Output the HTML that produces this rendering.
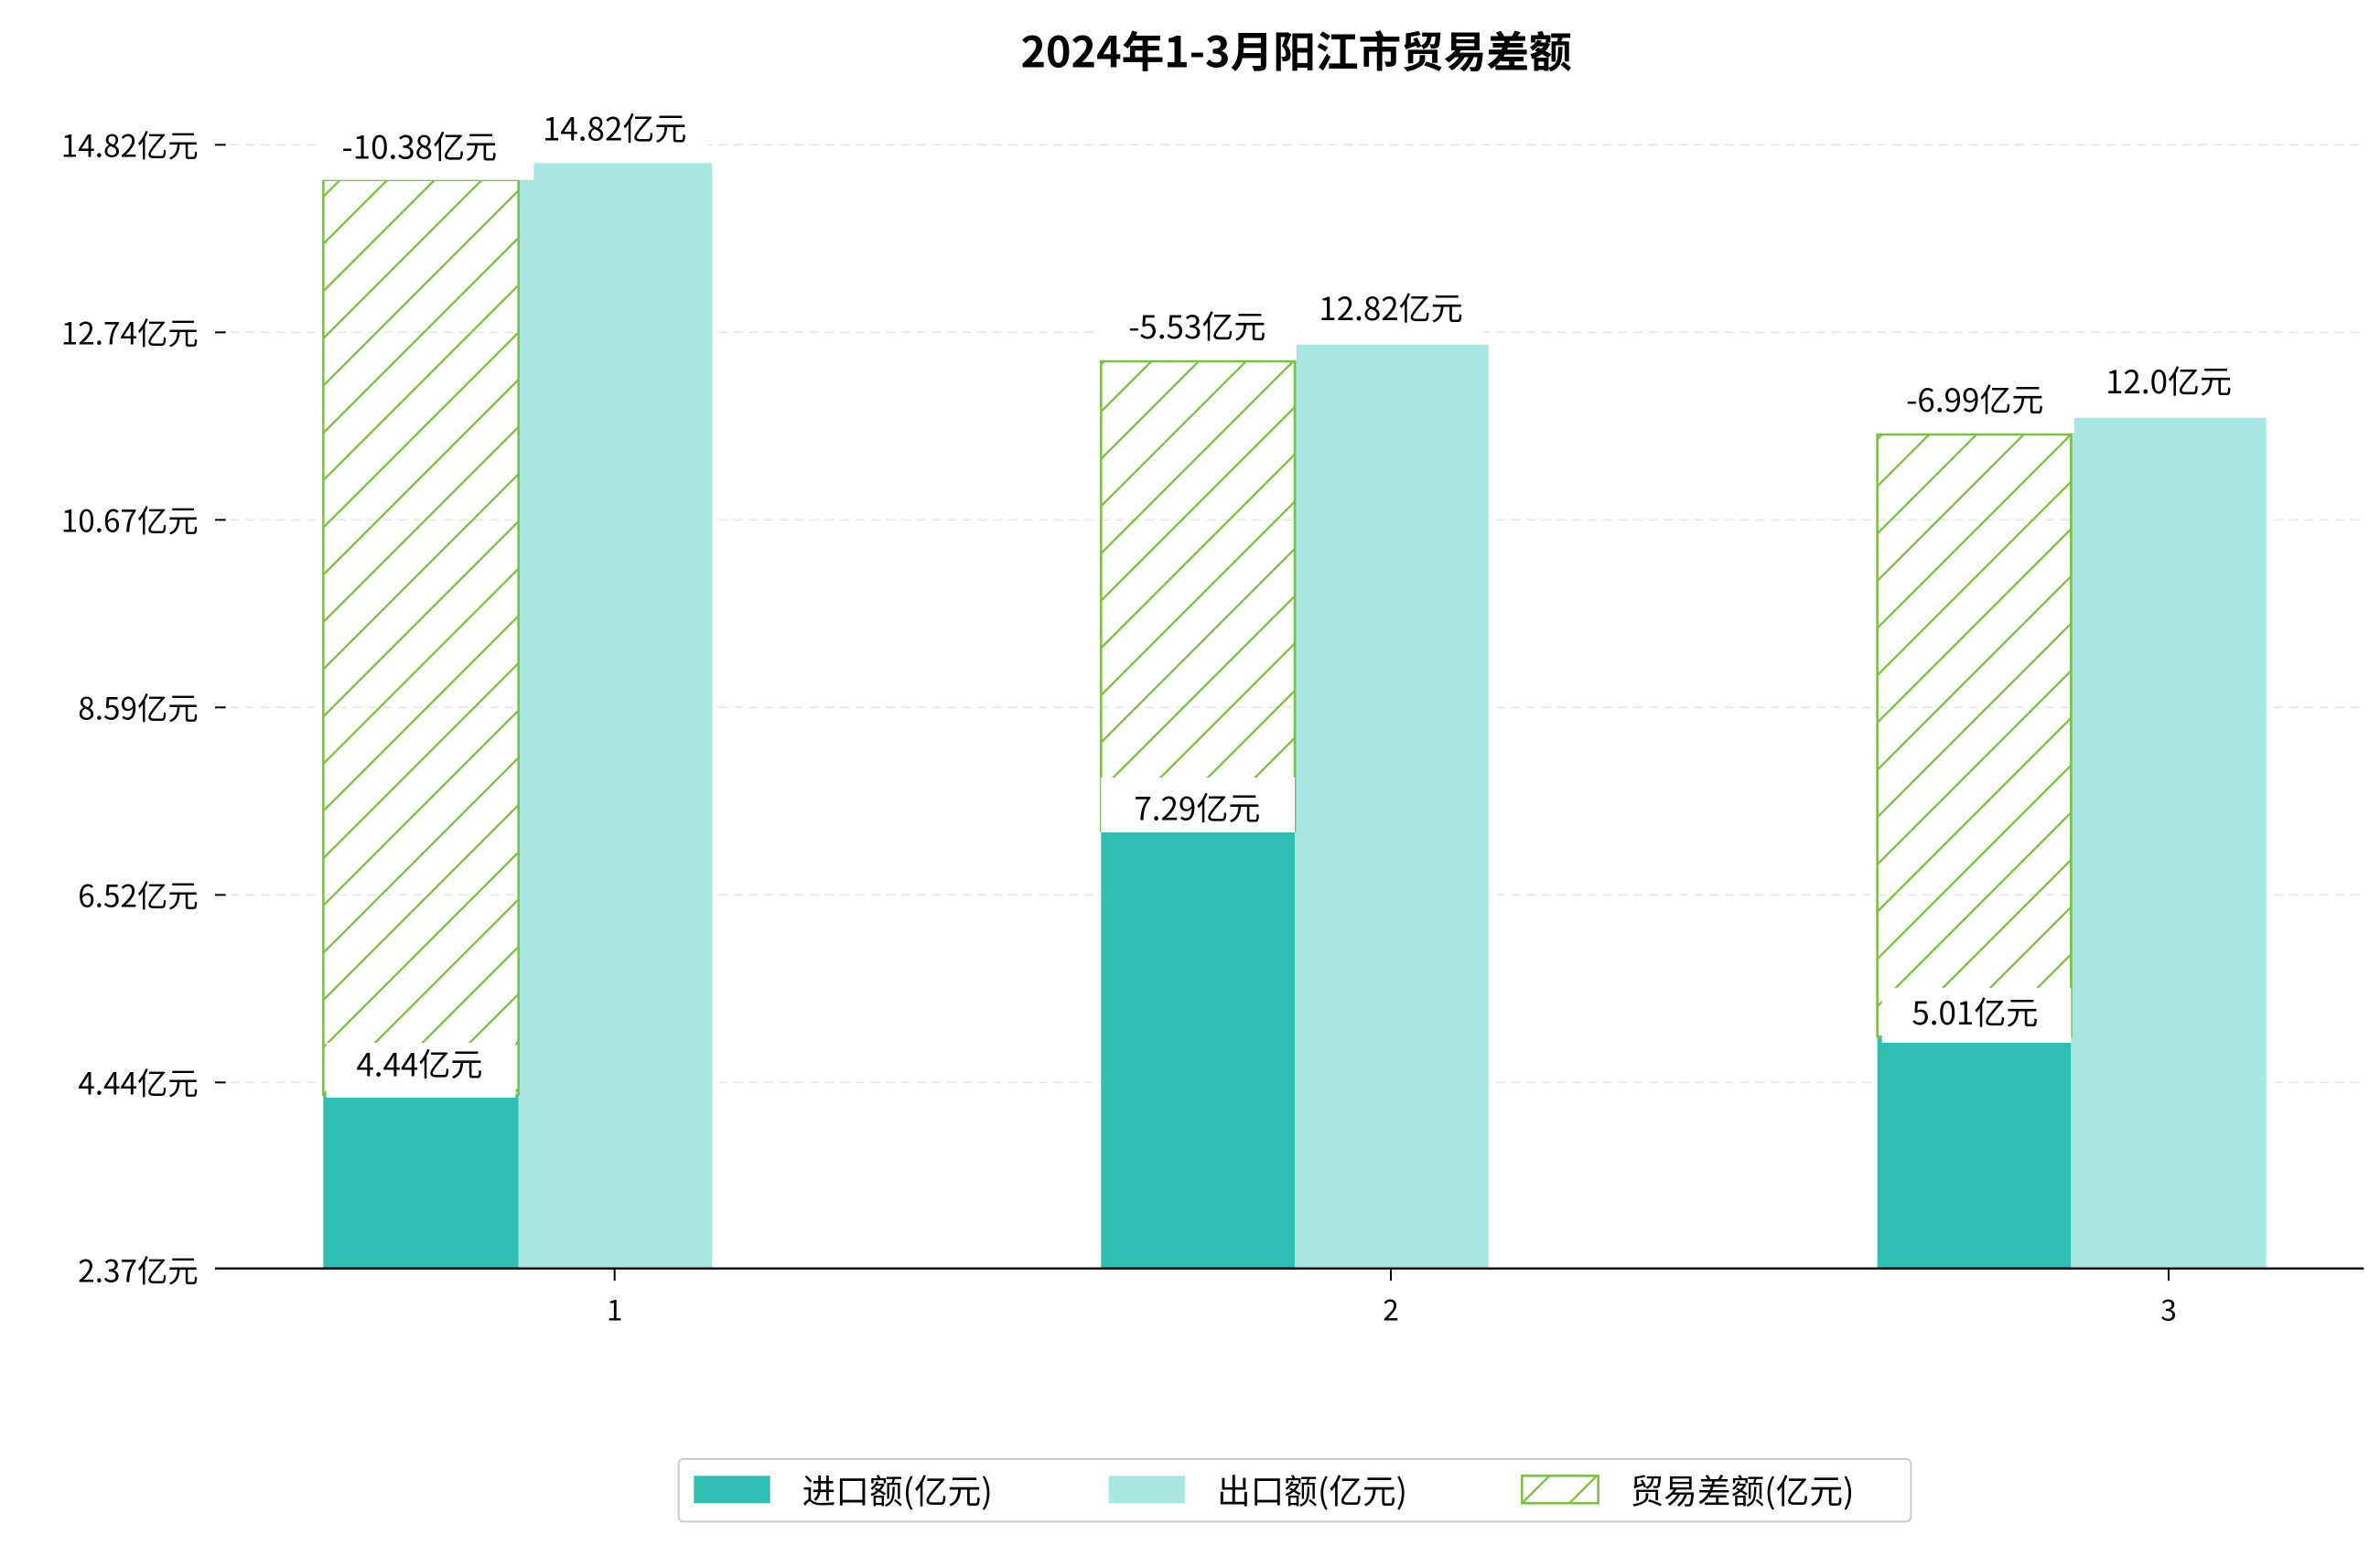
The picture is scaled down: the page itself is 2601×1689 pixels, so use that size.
<!DOCTYPE html>
<html><head><meta charset="utf-8"><style>html,body{margin:0;padding:0;background:#fff}svg{display:block}text{font-family:"WenQuanYi Zen Hei","Noto Sans CJK SC",sans-serif;fill:#000}</style></head><body>
<svg width="2601" height="1689" viewBox="0 0 1560.6 1013.4" xmlns="http://www.w3.org/2000/svg">
<defs><pattern id="h" patternUnits="userSpaceOnUse" width="31" height="31"><path d="M-2,33 L33,-2 M-33,33 L2,-2 M29,33 L64,-2" stroke="#7bbf3f" stroke-width="1.4"/></pattern></defs>
<text x="850" y="44" font-size="28" font-weight="bold" text-anchor="middle">2024年1-3月阳江市贸易差额</text>
<g stroke="#e6e6e6" stroke-dasharray="6,4" stroke-width="1">
<line x1="141" x2="1550" y1="95" y2="95"/><line x1="141" x2="1550" y1="218" y2="218"/><line x1="141" x2="1550" y1="341" y2="341"/><line x1="141" x2="1550" y1="464" y2="464"/><line x1="141" x2="1550" y1="587" y2="587"/><line x1="141" x2="1550" y1="710" y2="710"/></g>
<g font-size="20" text-anchor="end">
<text x="130" y="103">14.82亿元</text><text x="130" y="226">12.74亿元</text><text x="130" y="349">10.67亿元</text><text x="130" y="472">8.59亿元</text><text x="130" y="595">6.52亿元</text><text x="130" y="718">4.44亿元</text><text x="130" y="841">2.37亿元</text></g>
<g stroke="#000" stroke-width="1.2"><line x1="141" x2="148" y1="95" y2="95"/><line x1="141" x2="148" y1="218" y2="218"/><line x1="141" x2="148" y1="341" y2="341"/><line x1="141" x2="148" y1="464" y2="464"/><line x1="141" x2="148" y1="587" y2="587"/><line x1="141" x2="148" y1="710" y2="710"/>
<line x1="403" x2="403" y1="832" y2="840"/><line x1="912" x2="912" y1="832" y2="840"/><line x1="1422" x2="1422" y1="832" y2="840"/></g>
<rect x="212" y="718" width="128" height="114" fill="#2fbfb2"/>
<rect x="340" y="107" width="127" height="725" fill="#a8e6e1"/>
<rect x="722" y="545" width="127" height="287" fill="#2fbfb2"/>
<rect x="849" y="226" width="127" height="606" fill="#a8e6e1"/>
<rect x="1231" y="680" width="127" height="152" fill="#2fbfb2"/>
<rect x="1358" y="274" width="128" height="558" fill="#a8e6e1"/>
<rect x="212" y="118" width="128" height="600" fill="url(#h)" stroke="#7bbf3f" stroke-width="1.5"/>
<rect x="722" y="237" width="127" height="308" fill="url(#h)" stroke="#7bbf3f" stroke-width="1.5"/>
<rect x="1231" y="285" width="127" height="395" fill="url(#h)" stroke="#7bbf3f" stroke-width="1.5"/>
<line x1="141" x2="1550" y1="832" y2="832" stroke="#000" stroke-width="1.4"/>
<g fill="#fff"><rect x="210" y="80" width="140" height="38"/><rect x="344" y="70" width="120" height="34"/><rect x="214" y="684" width="124" height="36"/>
<rect x="720" y="200" width="130" height="36"/><rect x="852" y="188" width="120" height="36"/><rect x="722" y="510" width="127" height="36"/>
<rect x="1232" y="248" width="128" height="36"/><rect x="1362" y="236" width="120" height="36"/><rect x="1234" y="648" width="124" height="36"/></g>
<g font-size="21" text-anchor="middle">
<text x="275" y="104">-10.38亿元</text><text x="403" y="92">14.82亿元</text><text x="275" y="706">4.44亿元</text>
<text x="785" y="222">-5.53亿元</text><text x="912" y="210">12.82亿元</text><text x="785" y="538">7.29亿元</text>
<text x="1295" y="270">-6.99亿元</text><text x="1422" y="258">12.0亿元</text><text x="1295" y="672">5.01亿元</text></g>
<g font-size="19" text-anchor="middle"><text x="403" y="866">1</text><text x="912" y="866">2</text><text x="1422" y="866">3</text></g>
<rect x="445" y="957" width="808" height="41" rx="3" fill="#fff" stroke="#ccc" stroke-width="1.2"/>
<rect x="455" y="968" width="50" height="18" fill="#2fbfb2"/>
<rect x="727" y="968" width="50" height="18" fill="#a8e6e1"/>
<rect x="998" y="968" width="50" height="18" fill="url(#h)" stroke="#7bbf3f" stroke-width="1.5"/>
<g font-size="22"><text x="526" y="986">进口额(亿元)</text><text x="798" y="986">出口额(亿元)</text><text x="1069" y="986">贸易差额(亿元)</text></g>
</svg></body></html>
